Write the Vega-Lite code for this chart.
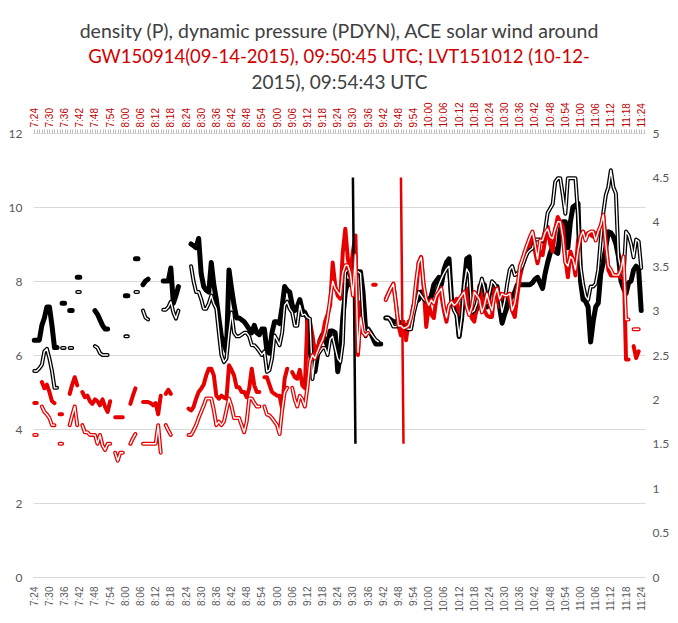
{
"$schema": "https://vega.github.io/schema/vega-lite/v6.json",
"width": 612,
"height": 444,
"autosize": {"type": "none"},
"padding": {"left": 33, "right": 33, "top": 133, "bottom": 46},
"background": "white",
"config": {"view": {"stroke": null}},
"title": {"text": "density (P), dynamic pressure (PDYN), ACE solar wind around", "subtitle": "GW150914(09-14-2015), 09:50:45 UTC; LVT151012 (10-12-", "font": "Lato", "fontSize": 19.5, "fontWeight": "normal", "color": "#404040", "subtitleFont": "Lato", "subtitleFontSize": 18.5, "subtitleColor": "#D00000", "subtitlePadding": 6, "offset": 6, "anchor": "middle"},
"data": {"values": [
{"t":0,"bd":6.4,"bp":2.32,"rd":4.7,"rp":1.6},
{"t":1,"bd":6.4,"bp":2.32,"rd":4.7,"rp":1.6},
{"t":2,"bd":6.4,"bp":2.35},
{"t":3,"bd":6.8,"bp":2.39,"rd":5.27,"rp":1.92},
{"t":4,"bd":7.0,"bp":2.54,"rd":5.1,"rp":1.86},
{"t":5,"bd":7.3,"bp":2.57,"rd":5.2,"rp":1.83},
{"t":6,"bd":7.3,"bp":2.46,"rd":5.0,"rp":1.79},
{"t":7,"bd":6.8,"bp":2.32,"rd":4.75,"rp":1.71},
{"t":8,"bd":6.2,"bp":2.13,"rd":4.7,"rp":1.71},
{"t":9,"bd":6.2,"bp":2.13},
{"t":10,"rd":4.4,"rp":1.5},
{"t":11,"bd":7.4,"bp":2.58,"rd":4.4,"rp":1.5},
{"t":12,"bd":7.4,"bp":2.58},
{"t":13},
{"t":14,"bd":7.2,"bp":2.58,"rd":4.95,"rp":1.71},
{"t":15,"bd":7.2,"bp":2.58,"rd":5.2,"rp":1.82},
{"t":16,"rd":5.4,"rp":1.92},
{"t":17,"bd":8.1,"bp":3.21,"rd":5.18,"rp":1.71},
{"t":18,"bd":8.1,"bp":3.21},
{"t":19,"rd":5.0,"rp":1.71},
{"t":20,"rd":4.86,"rp":1.63},
{"t":21,"rd":4.9,"rp":1.63},
{"t":22,"rd":4.75,"rp":1.6},
{"t":23,"rd":4.68,"rp":1.6},
{"t":24,"bd":7.2,"bp":2.6,"rd":4.8,"rp":1.6},
{"t":25,"bd":7.1,"bp":2.58,"rd":4.75,"rp":1.5},
{"t":26,"bd":6.95,"bp":2.52,"rd":4.64,"rp":1.6},
{"t":27,"bd":6.8,"bp":2.5,"rd":4.8,"rp":1.48},
{"t":28,"bd":6.7,"bp":2.5,"rd":4.6,"rp":1.43},
{"t":29,"bd":6.7,"bp":2.5,"rd":4.46,"rp":1.5},
{"t":30,"rd":4.75,"rp":1.5},
{"t":31},
{"t":32,"rd":4.32,"rp":1.4},
{"t":33,"rd":4.32,"rp":1.31},
{"t":34,"rd":4.32,"rp":1.4},
{"t":35,"rd":4.32,"rp":1.4},
{"t":36,"bd":7.6,"bp":2.71},
{"t":37,"bd":7.6,"bp":2.71},
{"t":38,"rd":4.68,"rp":1.5},
{"t":39,"rd":4.9,"rp":1.56},
{"t":40,"bd":8.6,"bp":3.21,"rd":5.1,"rp":1.61},
{"t":41,"bd":8.6,"bp":3.21},
{"t":42},
{"t":43,"bd":7.9,"bp":3.0,"rd":4.73,"rp":1.5},
{"t":44,"bd":8.0,"bp":2.92,"rd":4.73,"rp":1.5},
{"t":45,"bd":8.05,"bp":2.9,"rd":4.73,"rp":1.5},
{"t":46,"rd":4.7,"rp":1.5},
{"t":47,"rd":4.64,"rp":1.5},
{"t":48,"rd":4.7,"rp":1.5},
{"t":49,"rd":4.4,"rp":1.71},
{"t":50,"rd":4.9,"rp":1.4},
{"t":51,"bd":8.0,"bp":3.01},
{"t":52,"bd":8.0,"bp":3.01,"rd":4.95,"rp":1.71},
{"t":53,"bd":8.0,"bp":3.04,"rd":5.06,"rp":1.65},
{"t":54,"bd":8.35,"bp":3.1,"rd":4.95,"rp":1.6},
{"t":55,"bd":7.4,"bp":2.98},
{"t":56,"bd":7.6,"bp":2.91},
{"t":57,"bd":7.85,"bp":3.0},
{"t":58},
{"t":59},
{"t":60},
{"t":61,"rd":4.55,"rp":1.6},
{"t":62,"bd":9.0,"bp":3.5,"rd":4.5,"rp":1.6},
{"t":63,"bd":8.95,"bp":3.33,"rd":4.6,"rp":1.65},
{"t":64,"bd":8.9,"bp":3.21,"rd":4.82,"rp":1.71},
{"t":65,"bd":9.15,"bp":3.21,"rd":5.0,"rp":1.79},
{"t":66,"bd":8.2,"bp":3.13,"rd":5.09,"rp":1.86},
{"t":67,"bd":7.85,"bp":3.02,"rd":5.2,"rp":1.93},
{"t":68,"bd":7.75,"bp":3.02,"rd":5.45,"rp":2.01},
{"t":69,"bd":7.7,"bp":3.08,"rd":5.63,"rp":2.01},
{"t":70,"bd":8.5,"bp":3.17,"rd":5.63,"rp":2.01},
{"t":71,"bd":7.9,"bp":3.08,"rd":5.45,"rp":1.88},
{"t":72,"bd":7.5,"bp":3.02,"rd":4.9,"rp":1.71},
{"t":73,"bd":7.0,"bp":2.75,"rd":4.82,"rp":1.75},
{"t":74,"bd":6.5,"bp":2.5,"rd":4.9,"rp":1.71},
{"t":75,"bd":6.3,"bp":2.42,"rd":4.85,"rp":1.75},
{"t":76,"bd":6.1,"bp":2.46,"rd":4.82,"rp":1.88},
{"t":77,"bd":8.3,"bp":2.75,"rd":5.72,"rp":2.01},
{"t":78,"bd":7.8,"bp":2.98,"rd":5.6,"rp":1.92},
{"t":79,"bd":7.35,"bp":2.75,"rd":5.45,"rp":1.79},
{"t":80,"bd":7.0,"bp":2.71,"rd":5.13,"rp":1.79},
{"t":81,"bd":7.0,"bp":2.71,"rd":5.13,"rp":1.79},
{"t":82,"bd":6.95,"bp":2.73,"rd":5.0,"rp":1.71},
{"t":83,"bd":6.9,"bp":2.75,"rd":5.0,"rp":1.63},
{"t":84,"bd":6.8,"bp":2.75,"rd":4.86,"rp":1.75},
{"t":85,"bd":6.7,"bp":2.71,"rd":5.1,"rp":2.01},
{"t":86,"bd":6.6,"bp":2.61,"rd":5.63,"rp":2.01},
{"t":87,"bd":6.8,"bp":2.61,"rd":5.18,"rp":1.96},
{"t":88,"bd":6.6,"bp":2.58,"rd":5.0,"rp":1.92},
{"t":89,"bd":6.55,"bp":2.54,"rd":5.0,"rp":1.92},
{"t":90,"bd":6.7,"bp":2.5},
{"t":91,"bd":6.7,"bp":2.54,"rd":5.4,"rp":1.92},
{"t":92,"bd":6.1,"bp":2.31,"rd":5.4,"rp":1.83},
{"t":93,"bd":6.05,"bp":2.33,"rd":5.2,"rp":1.82},
{"t":94,"bd":6.6,"bp":2.46,"rd":5.0,"rp":1.79},
{"t":95,"bd":6.9,"bp":2.72,"rd":4.95,"rp":1.75},
{"t":96,"bd":6.9,"bp":2.67,"rd":4.9,"rp":1.71},
{"t":97,"bd":6.85,"bp":2.61,"rd":4.9,"rp":1.61},
{"t":98,"bd":7.3,"bp":2.75,"rd":4.55,"rp":1.88},
{"t":99,"bd":7.85,"bp":3.06,"rd":5.36,"rp":2.08},
{"t":100,"bd":7.75,"bp":3.1,"rd":5.63,"rp":2.13},
{"t":101,"bd":7.7,"bp":3.02},
{"t":102,"bd":7.35,"bp":2.98,"rd":5.54,"rp":2.13},
{"t":103,"bd":7.2,"bp":2.83,"rd":5.4,"rp":2.0},
{"t":104,"bd":7.3,"bp":2.83,"rd":5.36,"rp":1.92},
{"t":105,"bd":7.5,"bp":3.06,"rd":5.6,"rp":2.04},
{"t":106,"bd":7.2,"bp":2.95,"rd":5.18,"rp":2.0},
{"t":107,"bd":7.15,"bp":2.96,"rd":5.1,"rp":1.92},
{"t":108,"bd":7.0,"bp":2.92,"rd":6.98,"rp":2.13},
{"t":109,"bd":6.2,"bp":2.91,"rd":6.9,"rp":2.42},
{"t":110,"bd":5.55,"bp":2.23,"rd":6.53,"rp":2.5},
{"t":111,"bd":5.55,"bp":2.46,"rd":6.08,"rp":2.46},
{"t":112,"bd":6.0,"bp":2.5,"rd":6.2,"rp":2.54},
{"t":113,"bd":6.4,"bp":2.54,"rd":6.4,"rp":2.61},
{"t":114,"bd":6.55,"bp":2.58,"rd":6.53,"rp":2.67},
{"t":115,"bd":6.4,"bp":2.58,"rd":6.9,"rp":2.76},
{"t":116,"bd":6.25,"bp":2.5,"rd":7.1,"rp":2.92},
{"t":117,"bd":6.65,"bp":2.68,"rd":7.34,"rp":3.13},
{"t":118,"bd":6.65,"bp":2.71,"rd":8.5,"rp":3.33},
{"t":119,"bd":6.6,"bp":2.58,"rd":7.88,"rp":3.25},
{"t":120,"bd":5.55,"bp":2.46,"rd":7.6,"rp":3.21},
{"t":121,"bd":6.0,"bp":2.42,"rd":7.52,"rp":3.17},
{"t":122,"bd":7.0,"bp":2.63,"rd":8.78,"rp":3.43},
{"t":123,"bd":7.7,"bp":3.43,"rd":9.41,"rp":3.51},
{"t":124,"bd":8.0,"bp":3.47,"rd":8.6,"rp":3.51},
{"t":125,"bd":7.9,"bp":3.38,"rd":8.25,"rp":3.42},
{"t":126,"bd":8.1,"bp":3.33,"rd":8.8,"rp":3.17,"bm":10.8},
{"t":127,"bd":8.25,"bp":3.42,"rd":9.23,"rp":3.63,"bm":3.6},
{"t":128,"bd":8.25,"bp":3.44,"rd":6.0,"rp":2.53},
{"t":129,"bd":8.25,"bp":3.42,"rd":7.43,"rp":2.92},
{"t":130,"bd":7.7,"bp":2.92,"rd":6.8,"rp":2.75},
{"t":131,"bd":6.7,"bp":2.71,"rd":6.7,"rp":2.72},
{"t":132,"bd":6.7,"bp":2.79,"rd":6.65,"rp":2.75},
{"t":133,"bd":6.6,"bp":2.75},
{"t":134,"bd":6.45,"bp":2.71,"rd":7.9},
{"t":135,"bd":6.3,"bp":2.67,"rd":7.9},
{"t":136,"bd":6.3,"bp":2.65},
{"t":137,"bd":6.3},
{"t":138},
{"t":139,"bd":7.0,"bp":2.92,"rd":7.52,"rp":3.12},
{"t":140,"bd":7.0,"bp":2.92,"rd":7.66,"rp":3.19},
{"t":141,"bd":6.95,"bp":2.88,"rd":7.8,"rp":3.25},
{"t":142,"bd":6.9,"bp":2.82,"rd":7.93,"rp":3.3},
{"t":143,"bd":6.9,"bp":2.82,"rd":7.4,"rp":3.08},
{"t":144,"bd":6.9,"bp":2.83,"rd":6.8,"rp":2.83},
{"t":145,"bd":6.85,"bp":2.83,"rd":6.53,"rp":2.83,"rm":10.8},
{"t":146,"bd":6.8,"bp":2.82,"rd":6.9,"rp":2.8,"rm":3.6},
{"t":147,"bd":6.8,"bp":2.8,"rd":6.4,"rp":2.81},
{"t":148,"bd":6.8,"bp":2.79,"rd":6.9,"rp":2.83},
{"t":149,"bd":6.8,"bp":2.79,"rd":6.95,"rp":2.92},
{"t":150,"bd":7.3,"bp":2.96,"rd":7.3,"rp":3.06},
{"t":151,"bd":7.45,"bp":3.08,"rd":7.7,"rp":3.33},
{"t":152,"bd":7.5,"bp":3.21,"rd":8.5,"rp":3.54},
{"t":153,"bd":7.7,"bp":3.17,"rd":8.65,"rp":3.6},
{"t":154,"bd":7.6,"bp":3.13,"rd":7.8,"rp":3.29},
{"t":155,"bd":7.5,"bp":3.1,"rd":6.76,"rp":3.13},
{"t":156,"bd":7.45,"bp":3.1,"rd":7.34,"rp":3.06},
{"t":157,"bd":7.6,"bp":3.1,"rd":7.1,"rp":3.12},
{"t":158,"bd":7.9,"bp":3.13,"rd":7.0,"rp":3.08},
{"t":159,"bd":8.0,"bp":3.21,"rd":7.52,"rp":3.17},
{"t":160,"bd":8.1,"bp":3.29,"rd":7.88,"rp":3.21},
{"t":161,"bd":7.9,"bp":3.36,"rd":7.6,"rp":3.25},
{"t":162,"bd":8.3,"bp":3.42,"rd":7.2,"rp":3.04},
{"t":163,"bd":8.5,"bp":3.47,"rd":6.9,"rp":2.92},
{"t":164,"bd":8.6,"bp":3.5,"rd":7.34,"rp":3.06},
{"t":165,"bd":7.5,"bp":3.1,"rd":7.34,"rp":3.1},
{"t":166,"bd":7.35,"bp":3.0,"rd":7.4,"rp":3.06},
{"t":167,"bd":7.2,"bp":2.95,"rd":7.52,"rp":3.08},
{"t":168,"bd":6.5,"bp":2.71,"rd":7.1,"rp":3.13},
{"t":169,"bd":7.0,"bp":2.92,"rd":7.3,"rp":3.17},
{"t":170,"bd":7.9,"bp":3.29,"rd":7.5,"rp":3.21},
{"t":171,"bd":8.6,"bp":3.47,"rd":7.8,"rp":3.04},
{"t":172,"bd":8.65,"bp":3.42,"rd":7.34,"rp":2.95},
{"t":173,"bd":7.25,"bp":2.98,"rd":7.0,"rp":3.04},
{"t":174,"bd":7.1,"bp":3.0,"rd":6.9,"rp":3.21},
{"t":175,"bd":7.25,"bp":3.08,"rd":7.3,"rp":3.17},
{"t":176,"bd":7.6,"bp":3.25,"rd":7.88,"rp":3.13},
{"t":177,"bd":7.9,"bp":3.36,"rd":7.5,"rp":2.98},
{"t":178,"bd":7.9,"bp":3.25,"rd":7.2,"rp":3.06},
{"t":179,"bd":7.3,"bp":3.08,"rd":7.07,"rp":3.19},
{"t":180,"bd":7.66,"bp":3.19,"rd":7.03,"rp":3.08},
{"t":181,"bd":7.8,"bp":3.33,"rd":7.03,"rp":3.0},
{"t":182,"bd":7.85,"bp":3.3,"rd":7.85,"rp":3.17},
{"t":183,"bd":7.85,"bp":3.25,"rd":7.6,"rp":3.25},
{"t":184,"bd":7.3,"bp":3.16,"rd":7.3,"rp":3.13},
{"t":185,"bd":6.86,"bp":2.98,"rd":7.5,"rp":3.19},
{"t":186,"bd":7.1,"bp":3.1,"rd":7.6,"rp":3.17},
{"t":187,"bd":7.3,"bp":3.3,"rd":7.66,"rp":3.17},
{"t":188,"bd":7.5,"bp":3.46,"rd":7.5,"rp":3.19},
{"t":189,"bd":7.6,"bp":3.5,"rd":7.2,"rp":3.0},
{"t":190,"bd":7.7,"bp":3.4,"rd":7.03,"rp":3.08},
{"t":191,"bd":7.9,"bp":3.42,"rd":7.6,"rp":3.25},
{"t":192,"bd":7.9,"bp":3.45,"rd":8.1,"rp":3.5},
{"t":193,"bd":7.9,"bp":3.5,"rd":8.4,"rp":3.58},
{"t":194,"bd":7.9,"bp":3.58,"rd":8.6,"rp":3.67},
{"t":195,"bd":7.9,"bp":3.65,"rd":8.8,"rp":3.75},
{"t":196,"bd":7.9,"bp":3.68,"rd":9.02,"rp":3.83},
{"t":197,"bd":7.95,"bp":3.7,"rd":9.3,"rp":3.89},
{"t":198,"bd":8.05,"bp":3.8,"rd":8.8,"rp":3.75},
{"t":199,"bd":8.1,"bp":3.8,"rd":8.48,"rp":3.58},
{"t":200,"bd":7.95,"bp":3.8,"rd":8.8,"rp":3.79},
{"t":201,"bd":7.8,"bp":3.78,"rd":8.7,"rp":3.79},
{"t":202,"bd":8.2,"bp":3.9,"rd":9.1,"rp":3.88},
{"t":203,"bd":8.5,"bp":4.1,"rd":9.47,"rp":3.92},
{"t":204,"bd":8.75,"bp":4.15,"rd":9.0,"rp":3.83},
{"t":205,"bd":8.93,"bp":4.2,"rd":8.8,"rp":3.81},
{"t":206,"bd":8.8,"bp":4.45,"rd":9.4,"rp":3.92},
{"t":207,"bd":8.75,"bp":4.49,"rd":9.73,"rp":4.0},
{"t":208,"bd":9.4,"bp":4.49,"rd":9.6,"rp":4.0},
{"t":209,"bd":9.6,"bp":4.3,"rd":9.47,"rp":3.83},
{"t":210,"bd":9.6,"bp":4.09,"rd":8.6,"rp":3.54},
{"t":211,"bd":8.9,"bp":4.49,"rd":8.1,"rp":3.5},
{"t":212,"bd":9.6,"bp":4.49,"rd":8.8,"rp":3.61},
{"t":213,"bd":10.0,"bp":4.49,"rd":8.57,"rp":3.58},
{"t":214,"bd":10.05,"bp":4.49,"rd":8.15,"rp":3.46},
{"t":215,"bd":10.1,"bp":4.09,"rd":9.1,"rp":3.67},
{"t":216,"bd":8.0,"bp":3.5,"rd":9.25,"rp":3.83},
{"t":217,"bd":7.5,"bp":3.3,"rd":9.33,"rp":3.89},
{"t":218,"bd":7.45,"bp":3.16,"rd":9.2,"rp":3.79},
{"t":219,"bd":7.3,"bp":3.12,"rd":9.29,"rp":3.87},
{"t":220,"bd":6.35,"bp":3.27,"rd":9.25,"rp":3.89},
{"t":221,"bd":6.9,"bp":3.27,"rd":9.2,"rp":3.89},
{"t":222,"bd":7.3,"bp":3.3,"rd":9.29,"rp":3.79},
{"t":223,"bd":7.4,"bp":3.46,"rd":9.3,"rp":3.89},
{"t":224,"bd":8.2,"bp":3.8,"rd":9.33,"rp":3.96},
{"t":225,"bd":8.5,"bp":4.1,"rd":9.78,"rp":4.08},
{"t":226,"bd":8.9,"bp":4.3,"rd":9.0,"rp":3.75},
{"t":227,"bd":9.33,"bp":4.39,"rd":8.3,"rp":3.5},
{"t":228,"bd":9.3,"bp":4.58,"rd":8.15,"rp":3.46},
{"t":229,"bd":9.2,"bp":4.39,"rd":8.15,"rp":3.4},
{"t":230,"bd":9.0,"bp":4.32,"rd":8.15,"rp":3.4},
{"t":231,"bd":8.66,"bp":3.6,"rd":8.15,"rp":3.4},
{"t":232,"bd":8.0,"bp":3.46,"rd":8.1,"rp":3.46},
{"t":233,"bd":7.8,"bp":3.38,"rd":8.66,"rp":3.61},
{"t":234,"bd":7.66,"bp":3.89,"rd":5.88,"rp":2.9},
{"t":235,"bd":7.95,"bp":3.85,"rd":5.88,"rp":2.9},
{"t":236,"bd":8.0,"bp":3.75},
{"t":237,"bd":8.3,"bp":3.6,"rd":6.24,"rp":2.79},
{"t":238,"bd":8.4,"bp":3.8,"rd":5.92,"rp":2.79},
{"t":239,"bd":8.3,"bp":3.78,"rd":6.1,"rp":2.79},
{"t":240,"bd":7.2,"bp":3.48},
{"t":241}
]},
"layer": [
{
"encoding": {"x": {"field": "t", "type": "quantitative", "scale": {"domain": [-0.5, 241.5], "nice": false, "zero": false},
  "axis": {"orient": "bottom", "title": null, "values": [0,6,12,18,24,30,36,42,48,54,60,66,72,78,84,90,96,102,108,114,120,126,132,138,144,150,156,162,168,174,180,186,192,198,204,210,216,222,228,234,240],
   "labelExpr": "floor((datum.value+444)/60) + ':' + ((datum.value+444)%60 < 10 ? '0' : '') + ((datum.value+444)%60)",
   "labelAngle": 270, "labelFont": "Liberation Sans", "labelFontSize": 10, "labelColor": "#595959", "labelPadding": 9, "labelFlush": false, "labelOverlap": false,
   "ticks": false, "tickSize": 0, "grid": false, "domain": true, "domainColor": "#D9D9D9"}}},
"layer": [
 {"mark": {"type": "line", "color": "#000000", "strokeWidth": 5, "strokeCap": "round", "strokeJoin": "round", "invalid": "break-paths-show-domains"},
  "encoding": {"y": {"field": "bd", "type": "quantitative", "scale": {"domain": [0, 12], "nice": false}, "axis": {"orient": "left", "title": null, "values": [0,2,4,6,8,10,12], "grid": true, "gridColor": "#D9D9D9", "domain": false, "ticks": false, "labelPadding": 11, "labelFont": "Lato", "labelFontSize": 12, "labelColor": "#595959"}}}},
 {"mark": {"type": "line", "color": "#E60000", "strokeWidth": 4, "strokeCap": "round", "strokeJoin": "round", "invalid": "break-paths-show-domains"},
  "encoding": {"y": {"field": "rd", "type": "quantitative", "scale": {"domain": [0, 12], "nice": false}, "axis": {"orient": "left", "title": null, "values": [0,2,4,6,8,10,12], "grid": true, "gridColor": "#D9D9D9", "domain": false, "ticks": false, "labelPadding": 11, "labelFont": "Lato", "labelFontSize": 12, "labelColor": "#595959"}}}},
 {"mark": {"type": "line", "color": "#000000", "strokeWidth": 2.5, "invalid": "break-paths-show-domains"},
  "encoding": {"y": {"field": "bm", "type": "quantitative", "scale": {"domain": [0, 12], "nice": false}, "axis": {"orient": "left", "title": null, "values": [0,2,4,6,8,10,12], "grid": true, "gridColor": "#D9D9D9", "domain": false, "ticks": false, "labelPadding": 11, "labelFont": "Lato", "labelFontSize": 12, "labelColor": "#595959"}}}},
 {"mark": {"type": "line", "color": "#E60000", "strokeWidth": 2.5, "invalid": "break-paths-show-domains"},
  "encoding": {"y": {"field": "rm", "type": "quantitative", "scale": {"domain": [0, 12], "nice": false}, "axis": {"orient": "left", "title": null, "values": [0,2,4,6,8,10,12], "grid": true, "gridColor": "#D9D9D9", "domain": false, "ticks": false, "labelPadding": 11, "labelFont": "Lato", "labelFontSize": 12, "labelColor": "#595959"}}}}
]
},
{
"encoding": {"x": {"field": "t", "type": "quantitative", "scale": {"domain": [-0.5, 241.5], "nice": false, "zero": false},
  "axis": {"orient": "top", "title": "2015), 09:54:43 UTC", "titleFont": "Lato", "titleFontSize": 19, "titleFontWeight": "normal", "titleColor": "#404040", "titlePadding": 9,
   "tickCount": 242,
   "labelExpr": "datum.value % 6 === 0 ? floor((datum.value+444)/60) + ':' + ((datum.value+444)%60 < 10 ? '0' : '') + ((datum.value+444)%60) : ''",
   "labelAngle": 270, "labelFont": "Liberation Sans", "labelFontSize": 10, "labelColor": "#C00000", "labelPadding": 2, "labelFlush": false, "labelOverlap": false,
   "ticks": true, "tickSize": 4, "tickColor": "#BFBFBF", "grid": false, "domain": false}}},
"layer": [
 {"mark": {"type": "line", "color": "#000000", "strokeWidth": 4, "strokeCap": "round", "strokeJoin": "round", "invalid": "break-paths-show-domains"},
  "encoding": {"y": {"field": "bp", "type": "quantitative", "scale": {"domain": [0, 5], "nice": false}, "axis": {"orient": "right", "title": null, "values": [0,0.5,1,1.5,2,2.5,3,3.5,4,4.5,5], "format": "~g", "grid": false, "domain": false, "ticks": false, "labelPadding": 7, "labelFont": "Lato", "labelFontSize": 12, "labelColor": "#595959"}}}},
 {"mark": {"type": "line", "color": "#FFFFFF", "strokeWidth": 1.4, "strokeCap": "round", "strokeJoin": "round", "invalid": "break-paths-show-domains"},
  "encoding": {"y": {"field": "bp", "type": "quantitative", "scale": {"domain": [0, 5], "nice": false}, "axis": {"orient": "right", "title": null, "values": [0,0.5,1,1.5,2,2.5,3,3.5,4,4.5,5], "format": "~g", "grid": false, "domain": false, "ticks": false, "labelPadding": 7, "labelFont": "Lato", "labelFontSize": 12, "labelColor": "#595959"}}}},
 {"mark": {"type": "line", "color": "#E60000", "strokeWidth": 4, "strokeCap": "round", "strokeJoin": "round", "invalid": "break-paths-show-domains"},
  "encoding": {"y": {"field": "rp", "type": "quantitative", "scale": {"domain": [0, 5], "nice": false}, "axis": {"orient": "right", "title": null, "values": [0,0.5,1,1.5,2,2.5,3,3.5,4,4.5,5], "format": "~g", "grid": false, "domain": false, "ticks": false, "labelPadding": 7, "labelFont": "Lato", "labelFontSize": 12, "labelColor": "#595959"}}}},
 {"mark": {"type": "line", "color": "#FFFFFF", "strokeWidth": 1.4, "strokeCap": "round", "strokeJoin": "round", "invalid": "break-paths-show-domains"},
  "encoding": {"y": {"field": "rp", "type": "quantitative", "scale": {"domain": [0, 5], "nice": false}, "axis": {"orient": "right", "title": null, "values": [0,0.5,1,1.5,2,2.5,3,3.5,4,4.5,5], "format": "~g", "grid": false, "domain": false, "ticks": false, "labelPadding": 7, "labelFont": "Lato", "labelFontSize": 12, "labelColor": "#595959"}}}}
]
}
],
"resolve": {"scale": {"y": "independent"}, "axis": {"x": "independent"}}
}
